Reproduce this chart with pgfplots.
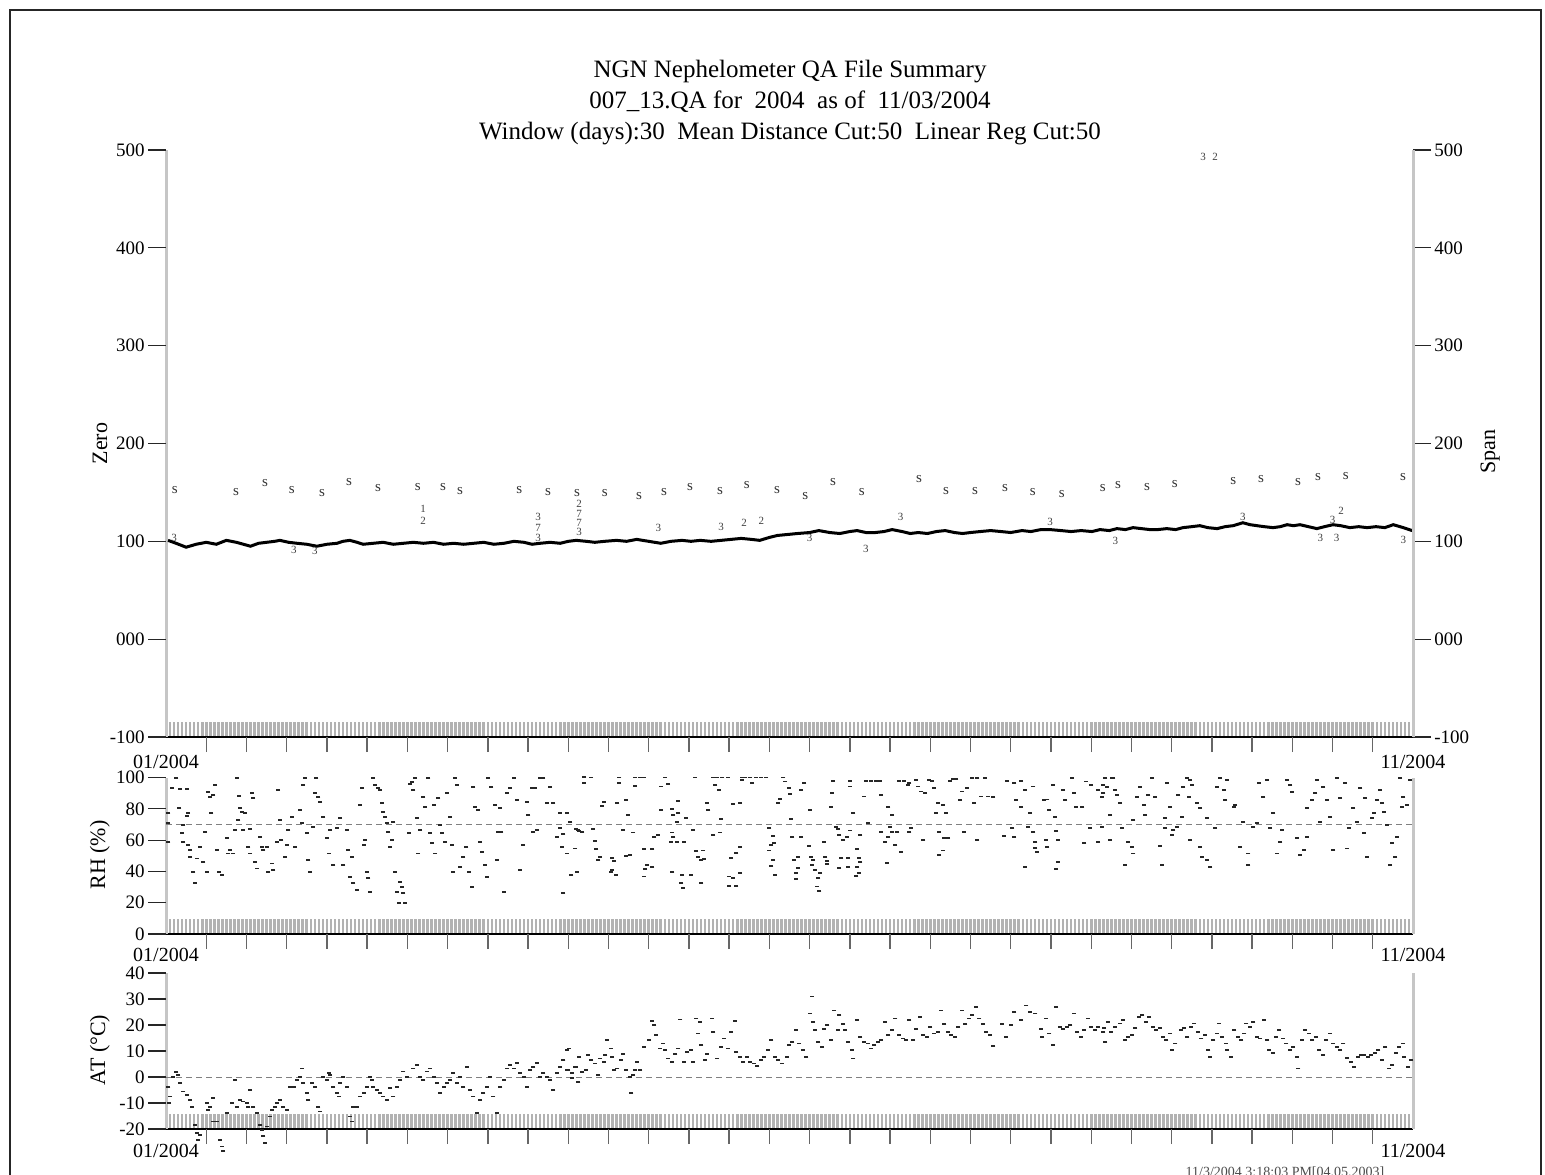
\documentclass[border=0pt]{standalone}
\usepackage{fontspec}
\setmainfont{Liberation Serif}
\usepackage{pgfplots}
\pgfplotsset{compat=1.18}

\pgfplotsset{
  panel/.style={
    scale only axis, width=623.5pt,
    xmin=0, xmax=310,
    axis x line*=bottom, axis y line*=box,
    x axis line style={black, line width=1.1pt},
    y axis line style={gray!45, line width=1.5pt},
    % daily stripes along the bottom
    xtick={0,1,...,309}, xticklabels={},
    xtick align=inside, major tick length=7.5pt,
    tick style={gray!60, line width=1.3pt},
    ytick=\empty, ytick pos=left,
    extra x ticks={10,20,...,300}, extra x tick labels={},
    extra x tick style={xtick align=outside, tick style={black!60, line width=0.7pt}},
    extra y tick style={ytick align=outside, major tick length=9pt,
      tick style={black!85, line width=0.6pt}},
    /pgf/number format/assume math mode=true,
    tick label style={font=\fontsize{9.5}{10}\selectfont},
    yticklabel style={inner xsep=1.5pt},
    label style={font=\fontsize{11}{12}\selectfont},
    clip=false,
  },
  dots/.style={only marks, mark=-, mark size=1pt,
    mark options={line width=0.9pt, black!85}},
  digit/.style={only marks, mark=text, text mark={#1}, text mark as node=true,
    text mark style={font=\fontsize{5.5}{6}\selectfont, black!75, inner sep=0pt}},
}

\begin{document}
\begin{tikzpicture}
\useasboundingbox (0,0) rectangle (772.5pt,587pt);
% page frame
\draw[black!85, line width=1.4pt] (5pt,-2pt) -- (5pt,582pt) -- (770.5pt,582pt) -- (770.5pt,-2pt);

% titles
\node[font=\fontsize{12.5}{14}\selectfont] at (395pt,551pt) {NGN Nephelometer QA File Summary};
\node[font=\fontsize{12.5}{14}\selectfont] at (395pt,536pt) {007\_13.QA for\ \ 2004\ \ as of\ \ 11/03/2004};
\node[font=\fontsize{12.5}{14}\selectfont] at (395pt,520pt) {Window (days):30\ \ Mean Distance Cut:50\ \ Linear Reg Cut:50};

% ---------- Zero / Span panel ----------
\begin{axis}[panel, at={(83pt,218.5pt)}, anchor=south west, height=293.5pt,
  ymin=-100, ymax=500,
  extra y ticks={-100,0,100,200,300,400,500},
  extra y tick labels={-100,000,100,200,300,400,500},
  ylabel={Zero}, ylabel style={at={(axis description cs:-0.053,0.5)}, anchor=center},
]
\addplot[black, line width=1.5pt] coordinates {
(0.5,101) (2.5,98) (5,94) (7.5,97) (10,99) (12.5,97) (15,101) (17.5,99) (21,95) (23,98)
(25,99) (27,100) (28.3,101) (30.5,99) (32.6,98) (35,97) (37.5,95) (40,97) (42.5,98) (44,100)
(45.7,101) (47.5,99) (49,97) (51.5,98) (54,99) (56.5,97) (59,98) (61.5,99) (64,98) (66.5,99)
(69,97) (71.5,98) (74,97) (76.5,98) (79,99) (81.5,97) (84,98) (86.5,100) (89,99) (91,97)
(93,98) (95.5,99) (98,98) (100,100) (102,101) (104.5,100) (106.6,99) (109,100) (112,101) (114.5,100)
(117,102) (120,100) (123,98) (125.5,100) (128.3,101) (130.5,100) (132.8,101) (135.5,100) (138,101) (140.5,102)
(143,103) (145.5,102) (147.6,101) (150,104) (152,106) (154.5,107) (157,108) (160,109) (162.3,111) (165,109)
(167.5,108) (170,110) (171.8,111) (174,109) (176.3,109) (178.5,110) (180.5,112) (183,110) (185,108) (187,109)
(189.3,108) (191.5,110) (193.7,111) (196,109) (198,108) (200,109) (202.4,110) (205,111) (207.6,110) (210,109)
(212.8,111) (215,110) (217.5,112) (219.8,112) (222.5,111) (225,110) (227.5,111) (230.2,110) (232.2,112) (234.5,111)
(236.4,113) (238.5,112) (240.4,114) (242.5,113) (244.6,112) (246.5,112) (248.8,113) (251,112) (252.8,114) (255,115)
(257,116) (259,114) (261.3,113) (263.3,115) (265.3,116) (267.7,119) (269.5,117) (271.2,116) (273,115) (275.2,114)
(277,115) (278.7,117) (280.3,116) (281.9,117) (284,115) (286.1,113) (288,115) (290.1,117) (292,116) (294.3,114)
(296.5,115) (298.6,114) (300.8,115) (303,114) (305.1,117) (307.6,114) (309.8,111)
};
\addplot[digit=3] coordinates {(2,104) (31.8,91) (37,90) (92.5,125) (92.5,103) (102.7,110) (122.4,114)
  (138,115) (160,103) (174,92) (182.6,125) (219.8,120) (236,100) (267.7,125) (290,122) (287,104)
  (291,103) (307.6,101) (257.8,493)};
\addplot[digit=2] coordinates {(63.9,121) (102.7,138) (143.7,119) (148,121) (292.1,131) (260.8,493)};
\addplot[digit=1] coordinates {(63.9,133)};
\addplot[digit=7] coordinates {(102.7,128) (102.7,119) (92.5,114)};
\node[font=\fontsize{10}{12}\selectfont, yshift=-12.5pt] at (rel axis cs:0,0) {01/2004};
\node[font=\fontsize{10}{12}\selectfont, yshift=-12.5pt] at (rel axis cs:1,0) {11/2004};
\end{axis}

\begin{axis}[at={(83pt,218.5pt)}, anchor=south west, scale only axis,
  width=623.5pt, height=293.5pt,
  xmin=0, xmax=310, ymin=-100, ymax=500,
  axis x line=none, axis y line*=right,
  y axis line style={gray!45, line width=1.5pt},
  ytick align=outside, major tick length=9pt, tick style={black!85, line width=0.6pt},
  ytick={-100,0,100,200,300,400,500}, yticklabels={-100,000,100,200,300,400,500},
  /pgf/number format/assume math mode=true,
  tick label style={font=\fontsize{9.5}{10}\selectfont},
  yticklabel style={inner xsep=1.5pt},
  label style={font=\fontsize{11}{12}\selectfont},
  ylabel={Span}, ylabel style={at={(axis description cs:1.0618,0.486)}, anchor=center},
  clip=false,
]
\addplot[digit=s, text mark style={font=\fontsize{7.5}{8}\selectfont, black!80}] coordinates {
(2.2,152) (17.4,150) (24.6,160) (31.3,152) (38.8,149) (45.5,161) (52.7,154) (62.6,155) (68.9,155) (73.1,151)
(87.8,152) (95,150) (102.2,149) (109.1,149) (117.6,146) (123.8,150) (130.3,155) (137.7,151) (144.4,158) (151.9,152)
(158.9,146) (165.8,161) (173,150) (187.2,164) (193.9,151) (201.1,151) (208.6,154) (215.5,150) (222.7,148) (232.9,154)
(236.7,158) (243.9,156) (250.8,159) (265.3,162) (272.2,164) (281.4,161) (286.4,166) (293.3,167) (307.5,166)
};
\end{axis}

% ---------- RH panel ----------
\begin{axis}[panel, at={(83pt,120pt)}, anchor=south west, height=78.25pt,
  ymin=0, ymax=100,
  extra y ticks={0,20,40,60,80,100}, extra y tick labels={0,20,40,60,80,100},
  ylabel={RH (\%)}, ylabel style={at={(axis description cs:-0.053,0.505)}, anchor=center},
]
\addplot[gray, densely dashed, line width=0.5pt] coordinates {(0,70) (310,70)};
\addplot[dots] coordinates {
(2.6,99.9) (1.4,93.1) (3.5,92.4) (5.1,92.4) (3.3,80.3) (0.6,77.5) (0.6,70.7) (0.6,59) (4.3,69.6) (3.9,64.3)
(5.1,75.4) (5.5,77.5) (4.3,59) (5.5,56.9) (6,53.7) (6,49.4) (6.8,39.8) (7.2,32.8) (7.6,48.3) (8.4,55.8)
(9.3,46.2) (9.7,65.4) (10.1,39.8) (10.5,90.9) (10.9,87.7) (11.8,88.8) (11.3,77.1) (12.2,95.2) (12.6,53.7) (13.2,39.8)
(13.8,37.7) (15.1,61.1) (15.5,51.5) (15.9,53.7) (16.7,51.5) (17.1,66.4) (17.6,99.9) (18,72.8) (18.2,88.2) (18.4,80.3)
(18.8,78.2) (19.2,66.4) (19.6,77.1) (20.9,66.9) (21.3,89.9) (21.7,86.7) (20.5,55.8) (20.9,51.5) (22.1,46.2) (22.5,41.9)
(23.4,62.2) (23.8,55.8) (24.2,53.7) (25,55.8) (25.4,39.8) (26.3,45.1) (26.7,40.9) (27.5,59) (27.9,92) (28.3,72.8)
(28.7,60.1) (29.6,49.4) (30,56.9) (30.4,66.4) (31.2,75) (32.1,55.8) (33.3,79.2) (33.7,70.7) (34.1,95.2) (34.5,99.5)
(35,64.3) (35.4,47.3) (35.8,39.8) (36.6,68.6) (37,89.9) (37.4,99.5) (37.9,87.7) (38.3,84.6) (39.1,75) (39.9,61.1)
(40.4,51.5) (40.8,66.4) (41.6,44.1) (42.4,67.5) (43.3,73.9) (44.1,44.1) (44.9,66.4) (45.3,53.7) (46.2,49.4) (45.7,36.6)
(46.6,32.4) (47.4,28.1) (48.2,82.4) (48.6,93.1) (49.1,56.9) (49.5,60.1) (49.9,39.8) (50.3,35.6) (50.7,27) (51.5,99.5)
(52,95.2) (52.8,93.1) (53.2,92) (53.6,83.5) (54,78.2) (54.4,75) (54.9,70.7) (55.3,65.4) (55.7,55.8) (56.1,60.1)
(56.5,71.8) (56.9,39.8) (57.4,27) (57.8,19.6) (58.2,33.4) (58.6,30.2) (59,26) (59.4,19.6) (60.3,64.3) (60.7,95.8)
(61.1,97.3) (61.5,92) (61.9,99.5) (62.3,73.9) (62.7,51.5) (63.2,66.4) (64,87.7) (64.4,81.4) (65.2,99.5) (65.6,64.3)
(66.1,57.9) (66.5,82.4) (66.9,51.5) (67.7,86.7) (68.1,69.6) (68.5,64.3) (69.4,59) (69.8,89.9) (70.6,75) (71,56.9)
(71.4,39.8) (71.8,99.5) (72.3,95.2) (73.1,43) (73.9,49.4) (74.7,55.8) (75.2,39.8) (76,30.2) (76.4,94.1) (76.8,81.4)
(77.6,79.2) (78.1,59) (78.5,52.6) (79.3,44.1) (79.7,36.6) (80.1,99.5) (80.9,94.1) (81.8,82.4) (82.2,47.3) (82.6,65.4)
(83,80.3) (83.4,65.4) (83.9,27) (84.7,89.9) (85.5,93.1) (86.4,99.5) (87.2,85.6) (88,40.9) (88.8,56.9) (89.7,84.6)
(90.1,76) (90.9,93.1) (91.3,65.4) (91.7,93.1) (92.2,66.4) (93,99.5) (93.8,99.5) (94.6,83.5) (95.5,94.1) (96.3,83.5)
(97.1,62.2) (97.9,77.1) (98.4,55.8) (98.8,26) (99.6,51.5) (100.4,71.8) (100.8,37.7) (101.7,54.7) (102.1,39.8) (102.5,66.4)
(104,100.1) (105.7,100) (103.8,96.3) (108.3,81.8) (108.8,84.6) (112.2,83.5) (112.7,100) (112.5,96.3) (114.8,76) (114.4,85.6)
(116.6,100) (117.9,100) (116.6,94.6) (118.8,100) (123.1,94.2) (124,100) (124.8,95.9) (123.1,79.3) (125.7,79.7) (126.1,76)
(127.4,77.5) (127,71.8) (127.2,85.2) (129.2,73.9) (131.4,100) (134.4,83.5) (134.8,79.3) (136.1,100) (137,100) (138.3,100)
(139.6,100) (136.6,95.2) (137.4,92) (138,73.3) (140.9,83.1) (142.7,83.9) (143.1,100) (144,100) (145.3,100) (146.6,100)
(147.9,100) (149.2,100) (143.1,98.4) (145.7,96.3) (153.5,100) (153.9,97.4) (154.8,93.1) (152.6,86.1) (152.2,83.5) (155.1,89.3)
(155.3,73.3) (158.7,96.3) (157.9,92) (160,79.3) (165.7,98) (165.5,89.9) (165.2,81.4) (170,98) (170,94.2) (170.9,77.1)
(173.9,98) (175.2,98) (176.5,98) (177.4,98) (177.8,88.8) (173.5,87.8) (179.6,81.4) (180.5,76) (182.2,98) (183.5,98)
(184.4,95.2) (184.8,96.3) (186.5,98.4) (187,94.2) (187.8,91) (188.7,89.9) (189.6,98.4) (190.4,98) (190.9,93.1) (191.8,83.5)
(191.3,77.1) (193.1,82.5) (193.9,77.1) (194.8,98) (195.7,98.8) (196.5,98.8) (197.8,91) (197.4,85.6) (199.1,93.1) (200.4,99.5)
(201.7,99.5) (203.5,99.5) (200.9,83.5) (202.6,87.8) (204.4,87.8) (205.7,87.3) (209.1,98) (210.9,96.3) (212.6,98) (211.3,85.6)
(212.6,81.4) (213.5,92) (214.8,77.1) (215.6,94.2) (218.3,85.6) (219.1,86) (220.4,95.2) (219.6,79.3) (220.9,75) (223,92)
(223.5,85.6) (225.2,99.5) (225.6,89.9) (226.1,81.4) (227.8,81.4) (228.7,97.4) (230,95.2) (231.7,92) (233,89.9) (233.5,99.5)
(97.9,77.5) (99.6,77.5) (100.5,71.8) (97.9,67.5) (98.8,63.9) (101.8,66.9) (102.7,66) (103.5,65.2) (106.2,66.9) (106.6,59.6)
(107,54.1) (107.9,49) (107.5,47.3) (110.9,48.8) (111.4,46.7) (114.4,49.9) (115.3,50.3) (110.8,40.9) (110.5,39.8) (111.8,37.7)
(113.5,66.5) (116.1,64.8) (118.8,54.3) (120.9,54.1) (119.6,43.9) (118.8,36.7) (119.2,41.6) (120.9,43) (121.4,62.2) (122.2,63.1)
(125.7,64.8) (126.1,62.2) (125.5,59) (127,58.8) (128.7,58.8) (125.9,39.8) (128.3,37.7) (128.1,32.4) (128.5,29.2) (130.5,37.7)
(130.9,66.5) (131.8,53) (132.2,49.4) (133.5,53.3) (133.7,47.7) (133.1,47.3) (133.1,32.4) (136.1,63.3) (137.7,64.8) (140.5,48.4)
(140,36.7) (140.9,35.6) (140,30.7) (141.8,30.7) (142.7,55.8) (141.8,51.6) (142.7,38.8) (150,67.5) (150.9,62.6) (151.1,57.9)
(150.5,56.9) (149.8,53.3) (150.5,43.5) (150.9,47.3) (151.3,37.7) (155.7,61.8) (157,49) (156.1,47.3) (157,42) (156.6,38.8)
(156.6,35) (157.9,61.8) (159.8,56.2) (160.3,49.4) (160.9,47.3) (160.5,44.1) (161.3,40.9) (162.6,38.8) (162.2,35.6) (161.8,30.3)
(162.4,27.7) (163.5,59) (163.9,49.4) (164.4,46.9) (164.4,44.5) (166.6,68.6) (167,66.9) (167.4,63.3) (167.9,48.4) (167.4,42)
(168.3,60.1) (169.2,62.2) (170,66.1) (169.6,48.4) (169.6,43) (171.8,54.1) (172.2,48.4) (171.9,42.6) (172.2,38.8) (171.6,37.1)
(172.6,63.3) (172.6,46.2) (174.4,70.7) (177.8,65.4) (178.7,59) (179.6,62.2) (179.2,45.2) (180,68.6) (180.5,65.4) (181.8,65.4)
(181.3,56.9) (182.6,52.6) (184.8,65.4) (185.2,67.5) (188.3,60.1) (192.2,65.4) (193.1,53.3) (192.2,50.5) (193.5,61.1) (194.4,61.1)
(198.3,65.4) (201.7,60.1) (208.3,62.6) (210.4,67.5) (210.9,61.8) (213.5,43) (214.3,68.6) (215.6,65.4) (216.1,59) (216.1,54.8)
(216.5,52.6) (218.7,60.1) (219.1,55.8) (221.7,60.1) (221.3,66) (221.7,46.2) (221.3,41.3) (228.3,57.9) (229.6,67.5) (231.7,59)
(233,95.2) (233.9,94.1) (235.1,99.5) (235.9,92) (236.3,88.8) (237.2,83.9) (235.5,99.5) (232.6,87.7) (234.7,76) (232.6,68.6)
(234.7,60.1) (237.6,67.5) (238.4,44.1) (239.2,59) (240.1,55.8) (240.5,51.5) (242.1,93.7) (241.3,87.7) (243,82.4) (240.5,72.8)
(243.4,76) (244.2,88.8) (245,99.5) (245.9,87.7) (247.1,56.2) (247.5,44.1) (248.8,96.3) (248.4,73.9) (248.4,67.5) (249.6,81.4)
(250,63.2) (250.4,66.4) (251.3,68.6) (251.7,88.8) (252.5,75) (252.9,94.1) (253.8,99.5) (254.6,98.4) (255,95.2) (254.2,87.7)
(254.6,60.1) (257.1,55.8) (257.5,49.4) (258.7,47.3) (259.6,43) (256.2,83.5) (257.1,80.3) (258.7,73.9) (260.8,67.5) (261.2,94.1)
(262,99.5) (262.9,92) (263.3,85.6) (263.7,98.4) (265.4,81.4) (265.8,82.4) (267,55.8) (267.8,71.8) (269.1,44.1) (269.1,51.5)
(270.3,68.6) (271.2,70.7) (271.6,96.3) (272.8,87.7) (273.7,98.4) (274.5,67.5) (275.3,77.1) (276.1,51.5) (277,59) (277.4,66.4)
(278.6,98.4) (279.5,95.2) (279.9,90.9) (281.1,61.1) (281.9,50.5) (282.8,53.7) (283.6,62.2) (283.6,80.3) (284.8,85.6) (285.7,89.9)
(286.1,98.4) (286.9,71.8) (287.7,94.1) (288.6,85.6) (289.4,75) (290.2,53.7) (291.1,99.5) (291.9,86.7) (293.1,96.3) (293.5,54.7)
(294,67.5) (295.2,80.3) (296,71.8) (296.9,93.1) (297.7,64.3) (298.1,86.7) (298.5,49.4) (299.8,73.9) (300.2,77.1) (301,85.6)
(301.8,92) (302.3,83.5) (302.7,78.2) (303.5,69.6) (304.3,44.1) (304.7,57.9) (305.6,49.4) (306,62.2) (306.8,99.5) (307.2,81.4)
(307.6,87.7) (308.5,82.4) (309.3,98.4)
};
\node[font=\fontsize{10}{12}\selectfont, yshift=-10.5pt] at (rel axis cs:0,0) {01/2004};
\node[font=\fontsize{10}{12}\selectfont, yshift=-10.5pt] at (rel axis cs:1,0) {11/2004};
\end{axis}

% ---------- AT panel ----------
\begin{axis}[panel, at={(83pt,22.5pt)}, anchor=south west, height=78pt,
  ymin=-20, ymax=40,
  extra y ticks={-20,-10,0,10,20,30,40}, extra y tick labels={-20,-10,0,10,20,30,40},
  ylabel={AT (°C)}, ylabel style={at={(axis description cs:-0.053,0.506)}, anchor=center},
]
\addplot[gray, densely dashed, line width=0.5pt] coordinates {(0,0) (310,0)};
\addplot[dots] coordinates {
(0.6,-3.7) (1,-7.5) (0.8,-10.1) (1.8,0.1) (2.6,2) (3.1,0.8) (3.5,-2.4) (4.3,-5.6) (5.1,-6.9) (6,-8.8)
(6.4,-11.4) (7.2,-18.4) (7.6,-21.6) (8,-24.1) (8.4,-22.2) (10.1,-10.1) (10.5,-12.6) (10.9,-11.4) (11.6,-8.2) (11.8,-17.1)
(12.6,-17.1) (13.4,-24.1) (13.8,-26.7) (14.2,-28.6) (15.1,-13.9) (16.3,-10.1) (17.1,-1.1) (17.6,-11.4) (18.4,-8.8) (19.2,-9.4)
(20.1,-10.1) (20.5,-11.4) (20.9,-5) (21.7,-11.4) (22.5,-13.9) (23.4,-18.4) (23.8,-20.3) (24.2,-22.8) (24.6,-25.4) (25,-19)
(25.9,-15.2) (26.3,-12.6) (27.1,-11.4) (27.5,-10.1) (28.3,-8.8) (29.2,-11.4) (30,-12.6) (30.8,-3.7) (31.7,-3.7) (32.5,-1.1)
(33.3,0.1) (33.7,3.3) (34.1,-2.4) (35,-6.2) (35.4,-8.8) (36.2,-2.4) (37,-3.7) (37.9,-11.4) (38.3,-13.3) (39.1,0.1)
(39.9,-1.1) (40.4,1.4) (40.8,0.8) (41.6,-3.7) (42.4,-6.2) (42.9,-7.5) (43.3,-2.4) (44.1,0.1) (44.9,-3.7) (45.7,-15.2)
(46.2,-17.1) (46.6,-11.4) (47.4,-11.4) (48.2,-7.5) (49.1,-6.2) (49.9,-3.7) (50.7,0.1) (51.1,-1.1) (51.5,-3.7) (52.4,-5)
(53.2,-6.2) (54,-7.5) (54.9,-8.8) (55.7,-4.3) (56.5,-7.5) (57.4,-3.7) (58.2,-1.1) (59,2.1) (59.8,0.1) (61.5,3.3)
(62.3,4.6) (63.2,0.1) (64,-1.1) (64.8,2.1) (65.6,3.3) (66.5,0.1) (67.3,-2.4) (68.1,-6.2) (69,-3.7) (69.8,-2.4)
(70.6,-1.1) (71.4,1.4) (72.3,-2.4) (73.1,0.1) (73.9,-3.7) (74.8,4) (75.6,-5) (76.4,-7.5) (77.3,-13.9) (78.1,-8.8)
(78.9,-6.2) (79.7,-3.7) (80.6,0.1) (81.4,-7.5) (82.2,-13.9) (83.1,-3.7) (83.9,-1.1) (84.7,3.3) (85.5,4.6) (86.4,3.3)
(87.2,5.3) (88,1.4) (88.9,0.1) (89.7,-3.7) (90.5,2.7) (91.3,4) (92.2,5.3) (93,0.1) (93.8,1.4) (94.7,0.1)
(95.5,-1.1) (96.3,-5) (97.1,1.4) (98,4) (98.8,6.5) (99.6,10.4) (100,2.7) (100.9,1.4) (101.7,4) (102.5,-1.8)
(98.8,6.5) (100.1,11) (99.6,2.7) (100.9,-0.5) (101.8,3.9) (102.7,7.8) (103.5,2) (104.4,2.7) (104.9,8.4) (105.7,6.5)
(106.6,5.2) (107.5,0.7) (107.9,7.1) (108.8,5.9) (109.2,8.4) (109.6,14.1) (110.5,11) (110.9,7.8) (111.4,2.7) (112.2,3.3)
(113.1,6.5) (113.5,9) (114.4,2.7) (115.3,0.1) (115.7,-6) (116.1,0.7) (116.6,2.7) (117,5.9) (117.9,2.7) (118.8,11.6)
(120.1,14.1) (120.7,21.6) (121.4,19.9) (121.8,16.1) (122.7,11) (123.5,12.9) (124,10.3) (124.8,7.1) (125.7,5.9) (126.6,9)
(127.4,11) (127.9,22.1) (128.7,5.9) (129.6,9.7) (130.5,10.3) (130.9,5.9) (131.8,22.5) (132.2,16.7) (132.7,21.2) (133.1,12.2)
(133.9,6.5) (134.4,9) (135.7,22.5) (136.1,17.3) (137,7.1) (137.9,11.6) (138.7,14.8) (139.6,11) (140.5,17.3) (141.4,21.6)
(141.8,9.7) (142.7,7.8) (143.5,5.9) (144.4,7.8) (145.3,5.9) (146.1,5.2) (147,4.2) (147.9,6.5) (148.7,7.8) (149.6,10.3)
(150.5,14.1) (151.3,7.8) (152.2,6.5) (153.1,5.2) (154.4,7.8) (154.8,12.2) (155.7,13.5) (156.6,18) (157.4,12.9) (158.3,10.3)
(159.2,7.8) (160,24.4) (160.5,31) (160.9,21.2) (161.3,18) (162.2,13.5) (163.1,11.6) (163.5,18.6) (164.4,19.9) (165.2,14.1)
(166.1,25.6) (167,18) (167.4,23.7) (168.3,20.5) (168.7,18) (169.6,13.5) (170.5,10.3) (170.9,7.1) (171.8,21.8) (172.6,15.4)
(173.5,13.5) (174.4,12.9) (175.2,11) (176.1,12.2) (177,13.5) (177.8,14.1) (178.7,21.2) (179.6,16.1) (180.5,18) (181.3,22.5)
(182.2,16.1) (183.1,14.8) (183.9,14.1) (184.8,21.8) (185.7,14.1) (186.5,18.6) (187.4,23.1) (188.3,16.1) (189.1,15.4) (190,19.3)
(190.9,16.7) (191.8,17.3) (192.6,25.6) (193.5,20.5) (194.4,17.3) (195.2,16.1) (196.1,15.4) (197,19.3) (197.8,25.6) (198.7,20.5)
(199.6,22.5) (200.4,23.7) (201.3,26.9) (202.2,22.5) (203,20.5) (203.9,17.3) (204.8,16.1) (205.7,11.9) (207.8,20.5) (208.7,15.4)
(210,19.9) (210.9,25) (212.6,21.8) (213.9,27.5) (214.8,25) (216.1,24.4) (217.4,18.6) (217.8,15.4) (218.7,22.5) (219.6,16.7)
(220.4,12.2) (221.3,26.9) (222.2,19.3) (223,18.6) (223.9,19.3) (224.8,19.9) (225.6,24.4) (226.5,17.3) (227.4,15.4) (228.2,18)
(229.1,22.5) (230,19.3) (230.9,18) (231.7,19.3) (233,17.3) (233.5,13.5)
(233.2,18.7) (234.1,21.2) (234.9,17.4) (235.8,19.3) (237.1,20.6) (237.9,21.9) (238.4,14.2) (239.2,15.5) (240.1,16.1) (241,18.7)
(241.8,23.1) (242.7,23.8) (243.5,21.2) (244.4,23.1) (245.3,19.3) (246.1,18) (247,18.7) (247.9,15.5) (248.7,14.2) (249.6,16.7)
(250,10.4) (250.9,12.9) (252.2,18) (253.1,18.7) (253.9,15.5) (254.8,19.3) (255.6,20.6) (256.5,17.4) (257.4,14.8) (258.2,16.1)
(259.1,10.4) (259.5,7.8) (260.4,14.2) (261.2,16.7) (261.7,20.6) (262.5,15.5) (263.4,12.9) (263.8,10.4) (264.7,7.8) (265.6,18)
(266.4,15.5) (267.3,14.2) (268.1,16.7) (268.6,20.6) (269.4,19.3) (270.3,21.2) (271.2,15.5) (272,14.8) (272.9,21.9) (273.8,14.2)
(274.2,10.4) (275.1,9.1) (275.9,15.5) (276.8,18) (277.6,14.8) (278.5,12.9) (279.4,10.4) (280.2,11.6) (281.1,7.8) (281.5,3.3)
(282.4,14.2) (283.2,18) (284.1,16.7) (285,14.2) (285.8,15.5) (286.7,10.4) (287.6,8.4) (288.4,14.2) (289.3,16.7) (290.1,12.9)
(291,11.6) (291.9,10.4) (292.7,12.9) (293.6,7.2) (294.5,5.9) (295.3,4) (296.2,7.8) (297.1,8.4) (297.9,8.4) (298.8,7.8)
(299.6,8.4) (300.5,9.1) (301.4,10.4) (302.2,6.5) (303.1,11.6) (304,3.3) (304.8,4.6) (305.7,9.1) (306.5,11.6) (307.4,12.9)
(307.8,7.8) (308.7,4) (309.6,6.5)
};
\node[font=\fontsize{10}{12}\selectfont, yshift=-11pt] at (rel axis cs:0,0) {01/2004};
\node[font=\fontsize{10}{12}\selectfont, yshift=-11pt] at (rel axis cs:1,0) {11/2004};
\end{axis}

% footer, cut by the page edge as in the scan
\node[font=\fontsize{7}{8}\selectfont, black!70] at (642.5pt,0.5pt) {11/3/2004 3:18:03 PM[04.05.2003]};
\end{tikzpicture}
\end{document}
